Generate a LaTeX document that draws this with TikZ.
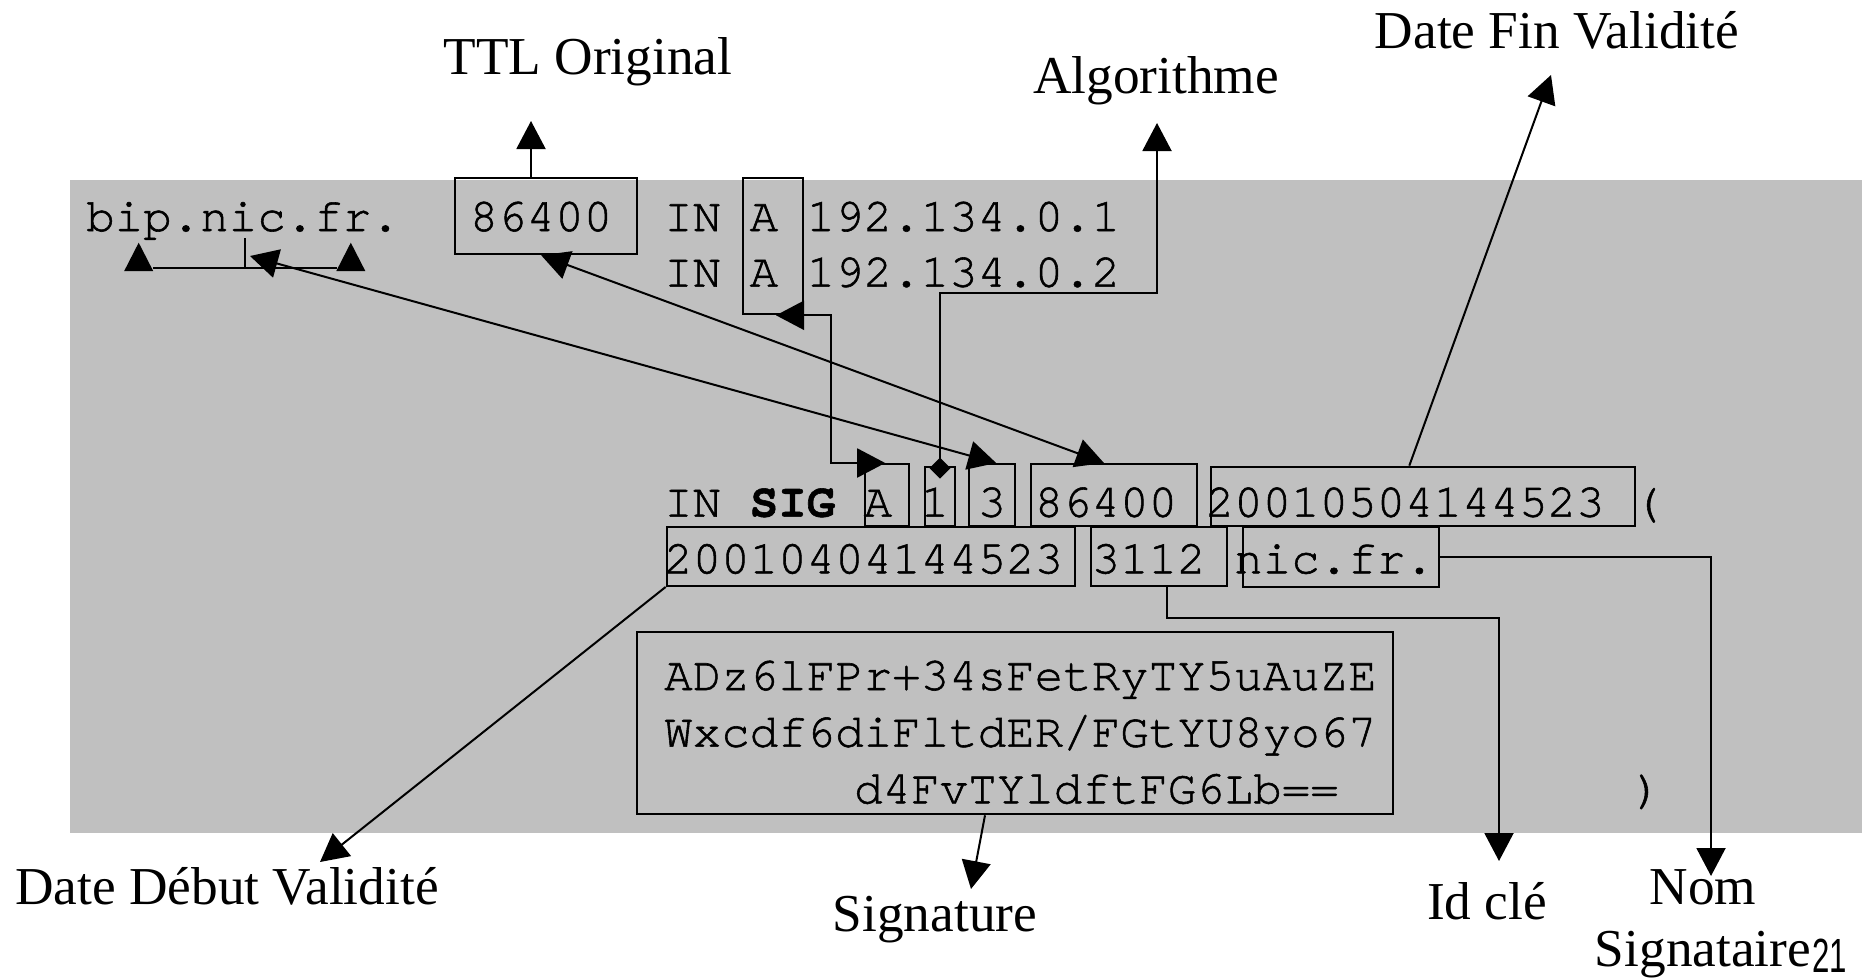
\documentclass[tikz,border=0pt]{standalone}
\usepackage{fontspec}
\setmainfont{Liberation Serif}
\newfontfamily\cour[FakeBold=1.2]{TeX Gyre Cursor}
\newfontfamily\pagefont[FakeStretch=0.65]{Liberation Sans}
\usetikzlibrary{arrows.meta}
\definecolor{panel}{RGB}{192,192,192}
\tikzset{
  code/.style={anchor=base west, inner sep=0pt, font=\cour\fontsize{47.5}{57}\selectfont},
  lbl/.style={anchor=base, inner sep=0pt, font=\fontsize{53.3}{60}\selectfont},
  field/.style={draw, line width=2pt, inner sep=0pt, rectangle},
  conn/.style={line width=2pt},
  onearrow/.style={conn, -{Triangle[length=28pt,width=29pt]}},
  twoarrow/.style={conn, {Triangle[length=28pt,width=29pt]}-{Triangle[length=28pt,width=29pt]}},
  diaarrow/.style={conn, {Diamond[length=21pt,width=21pt]}-{Triangle[length=28pt,width=29pt]}}
}
\begin{document}
\begin{tikzpicture}[x=1pt,y=-1pt]
\useasboundingbox (0,0) rectangle (1872,980);

% grey zone file panel
\fill[panel] (70,180) rectangle (1862,833);

% boxed fields
\node[field, minimum width=182.3pt, minimum height=76pt]  (ttlbox) at (546.2,216.3) {};
\node[field, minimum width=60.6pt,  minimum height=136pt] (abox)   at (773,246.3) {};
\node[field, minimum width=43.7pt,  minimum height=62pt]  (sA)     at (887.2,495) {};
\node[field, minimum width=30pt,    minimum height=59.3pt] (s1)    at (940,496.3) {};
\node[field, minimum width=45.7pt,  minimum height=62pt]  (s3)     at (992.2,495) {};
\node[field, minimum width=166.6pt, minimum height=62pt]  (sttl)   at (1114,495) {};
\node[field, minimum width=424pt,   minimum height=59.3pt] (sexp)  at (1423,496.3) {};
\node[field, minimum width=408.3pt, minimum height=59.3pt] (sinc)  at (870.8,556.3) {};
\node[field, minimum width=136.6pt, minimum height=59pt]  (skey)   at (1159,556.5) {};
\node[field, minimum width=195.7pt, minimum height=59.4pt] (sname) at (1341.2,557) {};
\node[field, minimum width=756.6pt, minimum height=182pt] (sigbox) at (1015,723.3) {};

% record text
\node[code] (owner) at (86,231) {bip.nic.fr.};
\node[code] (ttl)   at (469.5,231) {86400};
\node[code] (r1) at (664,231)   {IN A 192.134.0.1};
\node[code] (r2) at (664,286.7) {IN A 192.134.0.2};
\node[code] (r3) at (664,516.7) {IN \textbf{SIG} A 1 3 86400 20010504144523 (};
\node[code] (r4) at (664,573.3) {20010404144523 3112 nic.fr.};
\node[code] (g1) at (664,690)   {ADz6lFPr+34sFetRyTY5uAuZE};
\node[code] (g2) at (664,746.7) {Wxcdf6diFltdER/FGtYU8yo67};
\node[code] (g3) at (854,803.3) {d4FvTYldftFG6Lb==};
\node[code] (closep) at (1633,803.3) {)};

% field names
\node[lbl] (lttl) at (588,74)   {TTL Original};
\node[lbl] (lalg) at (1156,93)  {Algorithme};
\node[lbl] (lfin) at (1557,48)  {Date Fin Validité};
\node[lbl] (ldeb) at (227,904)  {Date Début Validité};
\node[lbl] (lsig) at (935,931)  {Signature};
\node[lbl] (lkey) at (1487,919) {Id clé};
\node[lbl] (lnom) at (1703,904) {Nom};
\node[lbl] (lsgn) at (1703,966) {Signataire};
\node[anchor=base west, inner sep=0pt, font=\pagefont\fontsize{48}{50}\selectfont] (pageno) at (1812,972) {21};

% arrow end points
\coordinate (ttltip) at (531,121);
\coordinate (algtip) at (1157,123);
\coordinate (algy)   at (0,292.7);
\coordinate (fintip) at (1551,75);
\coordinate (debtip) at (320,862);
\coordinate (sigtip) at (971,889);
\coordinate (keytip) at (1499,861);
\coordinate (nomtip) at (1711,876);
\coordinate (ownerhit) at (250,256);

% bracket under the owner name
\draw[conn] (153,268.3) -- (336.7,268.3);
\draw[conn] (245,238.3) -- (245,268.3);
\fill (124.2,271) -- (153.2,271) -- (138.7,242.7) -- cycle;
\fill (336.3,271) -- (365.3,271) -- (350.8,242.7) -- cycle;

% connectors
\draw[onearrow] (ttlbox.north -| ttltip) -- (ttltip);
\draw[diaarrow] ([yshift=-13pt]s1.north) |- (algtip |- algy) -- (algtip);
\draw[twoarrow] ([xshift=3pt]abox.south) -- ++(55,0) |- ([xshift=-2pt]sA.north);
\draw[twoarrow] (ownerhit) -- ([xshift=4pt]s3.north);
\draw[twoarrow] ([xshift=-5pt]ttlbox.south) -- ([xshift=-10pt]sttl.north);
\draw[onearrow] ([xshift=-13.7pt]sexp.north) -- (fintip);
\draw[onearrow] (sinc.south west) -- (debtip);
\draw[onearrow] ([xshift=-30pt]sigbox.south) -- (sigtip);
\draw[onearrow] ([xshift=7.7pt]skey.south) -- ++(0,30.7) -| (keytip);
\draw[onearrow] (sname.east) -| (nomtip);
\end{tikzpicture}
\end{document}
